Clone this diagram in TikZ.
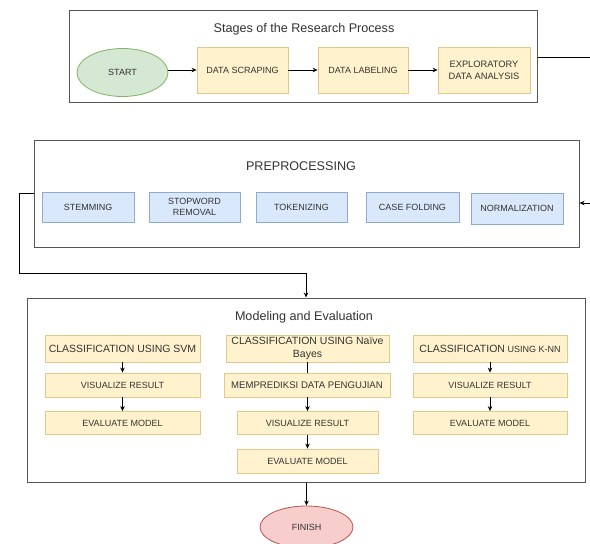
\documentclass[tikz,border=0pt]{standalone}
\usepackage{fontspec}
\setmainfont{Liberation Sans}
\usetikzlibrary{arrows.meta,shapes.geometric}
\definecolor{yelF}{HTML}{FFF2CC}
\definecolor{yelD}{HTML}{E0C98A}
\definecolor{bluF}{HTML}{DAE8FC}
\definecolor{bluD}{HTML}{8FA9CF}
\definecolor{grnF}{HTML}{D5E8D4}
\definecolor{grnD}{HTML}{82B366}
\definecolor{redF}{HTML}{F8CECC}
\definecolor{redD}{HTML}{B85450}
\definecolor{txt}{HTML}{333333}
\definecolor{frame}{HTML}{555555}
\tikzset{
  container/.style={draw=frame, line width=1pt, fill=white, inner sep=0pt},
  ttl/.style={text=txt, font=\fontsize{12.6}{14}\selectfont, inner sep=0pt},
  ybox/.style={draw=yelD, fill=yelF, line width=0.8pt, text=txt, inner sep=0pt, align=center, font=\fontsize{9}{11}\selectfont},
  yhead/.style={ybox, font=\fontsize{10.5}{13}\selectfont},
  bbox/.style={draw=bluD, fill=bluF, line width=0.8pt, text=txt, inner sep=0pt, align=center, font=\fontsize{9}{11.5}\selectfont},
  startell/.style={ellipse, draw=grnD, fill=grnF, line width=0.8pt, text=txt, inner sep=0pt, font=\fontsize{9}{11}\selectfont},
  endell/.style={ellipse, draw=redD, fill=redF, line width=0.8pt, text=txt, inner sep=0pt, font=\fontsize{9}{11}\selectfont},
  conn/.style={draw=black, line width=0.9pt, -{Stealth[length=5pt,width=4.5pt]}},
  plain/.style={draw=black, line width=0.9pt},
}
\begin{document}
\begin{tikzpicture}[x=1pt,y=-1pt]
\useasboundingbox (0,0) rectangle (590,544);
\clip (0,0) rectangle (590,544);
% ---------- Stage 1 ----------
\node[container, minimum width=468pt, minimum height=92pt] (c1) at (303,56) {};
\node[ttl] (t1) at (304,29) {Stages of the Research Process};
\node[startell, minimum width=91pt, minimum height=48pt] (start) at (122.5,72.5) {START};
\node[ybox, minimum width=91pt, minimum height=46pt] (scrap) at (242.5,70) {DATA SCRAPING};
\node[ybox, minimum width=90pt, minimum height=46pt] (label) at (363,70) {DATA LABELING};
\node[ybox, minimum width=92pt, minimum height=46pt, font=\fontsize{9.3}{12}\selectfont] (eda) at (484,70) {EXPLORATORY\\DATA ANALYSIS};
\draw[conn] (start.east |- scrap.west) -- (scrap.west);
\draw[conn] (scrap) -- (label);
\draw[conn] (label) -- (eda);
% ---------- Preprocessing ----------
\node[container, minimum width=545pt, minimum height=107pt] (c2) at (306.5,193.5) {};
\node[ttl] (t2) at (301,166) {PREPROCESSING};
\node[bbox, minimum width=92pt, minimum height=30pt] (stem) at (88,207) {STEMMING};
\node[bbox, minimum width=91pt, minimum height=30pt] (stop) at (194.5,207) {STOPWORD\\REMOVAL};
\node[bbox, minimum width=91pt, minimum height=30pt] (tok) at (301.5,207) {TOKENIZING};
\node[bbox, minimum width=93pt, minimum height=30pt] (case) at (412.5,207) {CASE FOLDING};
\node[bbox, minimum width=92pt, minimum height=31pt] (norm) at (517,208.5) {NORMALIZATION};
% connector from stage 1 to preprocessing (leaves the picture at the right)
\coordinate (r1) at (c1.east |- 0,57);
\coordinate (r2) at (620,57);
\coordinate (r3) at (620,203);
\coordinate (r4) at (c2.east |- 0,203);
\draw[conn] (r1) -- (r2) -- (r3) -- (r4);
% connector from preprocessing to modeling
\coordinate (l1) at (c2.west |- 0,193);
\coordinate (l2) at (19,193);
\coordinate (l3) at (19,273);
\coordinate (l4) at (306,273);
% ---------- Modeling ----------
\node[container, minimum width=558pt, minimum height=184pt] (c3) at (306,390) {};
\node[ttl] (t3) at (304,317) {Modeling and Evaluation};
\draw[conn] (l1) -- (l2) -- (l3) -- (l4) -- (l4 |- c3.north);
% SVM column
\node[yhead, minimum width=155pt, minimum height=27pt] (svm1) at (122.5,348.5) {CLASSIFICATION USING SVM};
\node[ybox, minimum width=155pt, minimum height=24pt] (svm2) at (122.5,385) {VISUALIZE RESULT};
\node[ybox, minimum width=155pt, minimum height=23pt] (svm3) at (122.5,423) {EVALUATE MODEL};
\draw[conn] (svm1) -- (svm2);
\draw[conn] (svm2) -- (svm3);
% Naive Bayes column
\node[yhead, minimum width=163pt, minimum height=27pt] (nb1) at (307.5,348.5) {CLASSIFICATION USING Naïve\\Bayes};
\node[ybox, minimum width=166pt, minimum height=24pt, font=\fontsize{9.6}{12}\selectfont] (nb2) at (307,385) {MEMPREDIKSI DATA PENGUJIAN};
\node[ybox, minimum width=141pt, minimum height=23pt] (nb3) at (307.5,423) {VISUALIZE RESULT};
\node[ybox, minimum width=141pt, minimum height=24pt] (nb4) at (307.5,461) {EVALUATE MODEL};
\draw[plain] (nb1.south) -- (nb2.north -| nb1.south);
\draw[conn] (nb2.south -| nb3.north) -- (nb3.north);
\draw[conn] (nb3) -- (nb4);
% K-NN column
\node[ybox, minimum width=154pt, minimum height=27pt] (knn1) at (490,348.5) {{\fontsize{10.5}{13}\selectfont CLASSIFICATION} USING K-NN};
\node[ybox, minimum width=154pt, minimum height=24pt] (knn2) at (490,385) {VISUALIZE RESULT};
\node[ybox, minimum width=154pt, minimum height=23pt] (knn3) at (490,423) {EVALUATE MODEL};
\draw[conn] (knn1) -- (knn2);
\draw[conn] (knn2) -- (knn3);
% ---------- Finish ----------
\node[endell, minimum width=93pt, minimum height=42pt] (fin) at (306.5,527) {FINISH};
\draw[conn] (c3.south -| fin.north) -- (fin.north);
\end{tikzpicture}
\end{document}
